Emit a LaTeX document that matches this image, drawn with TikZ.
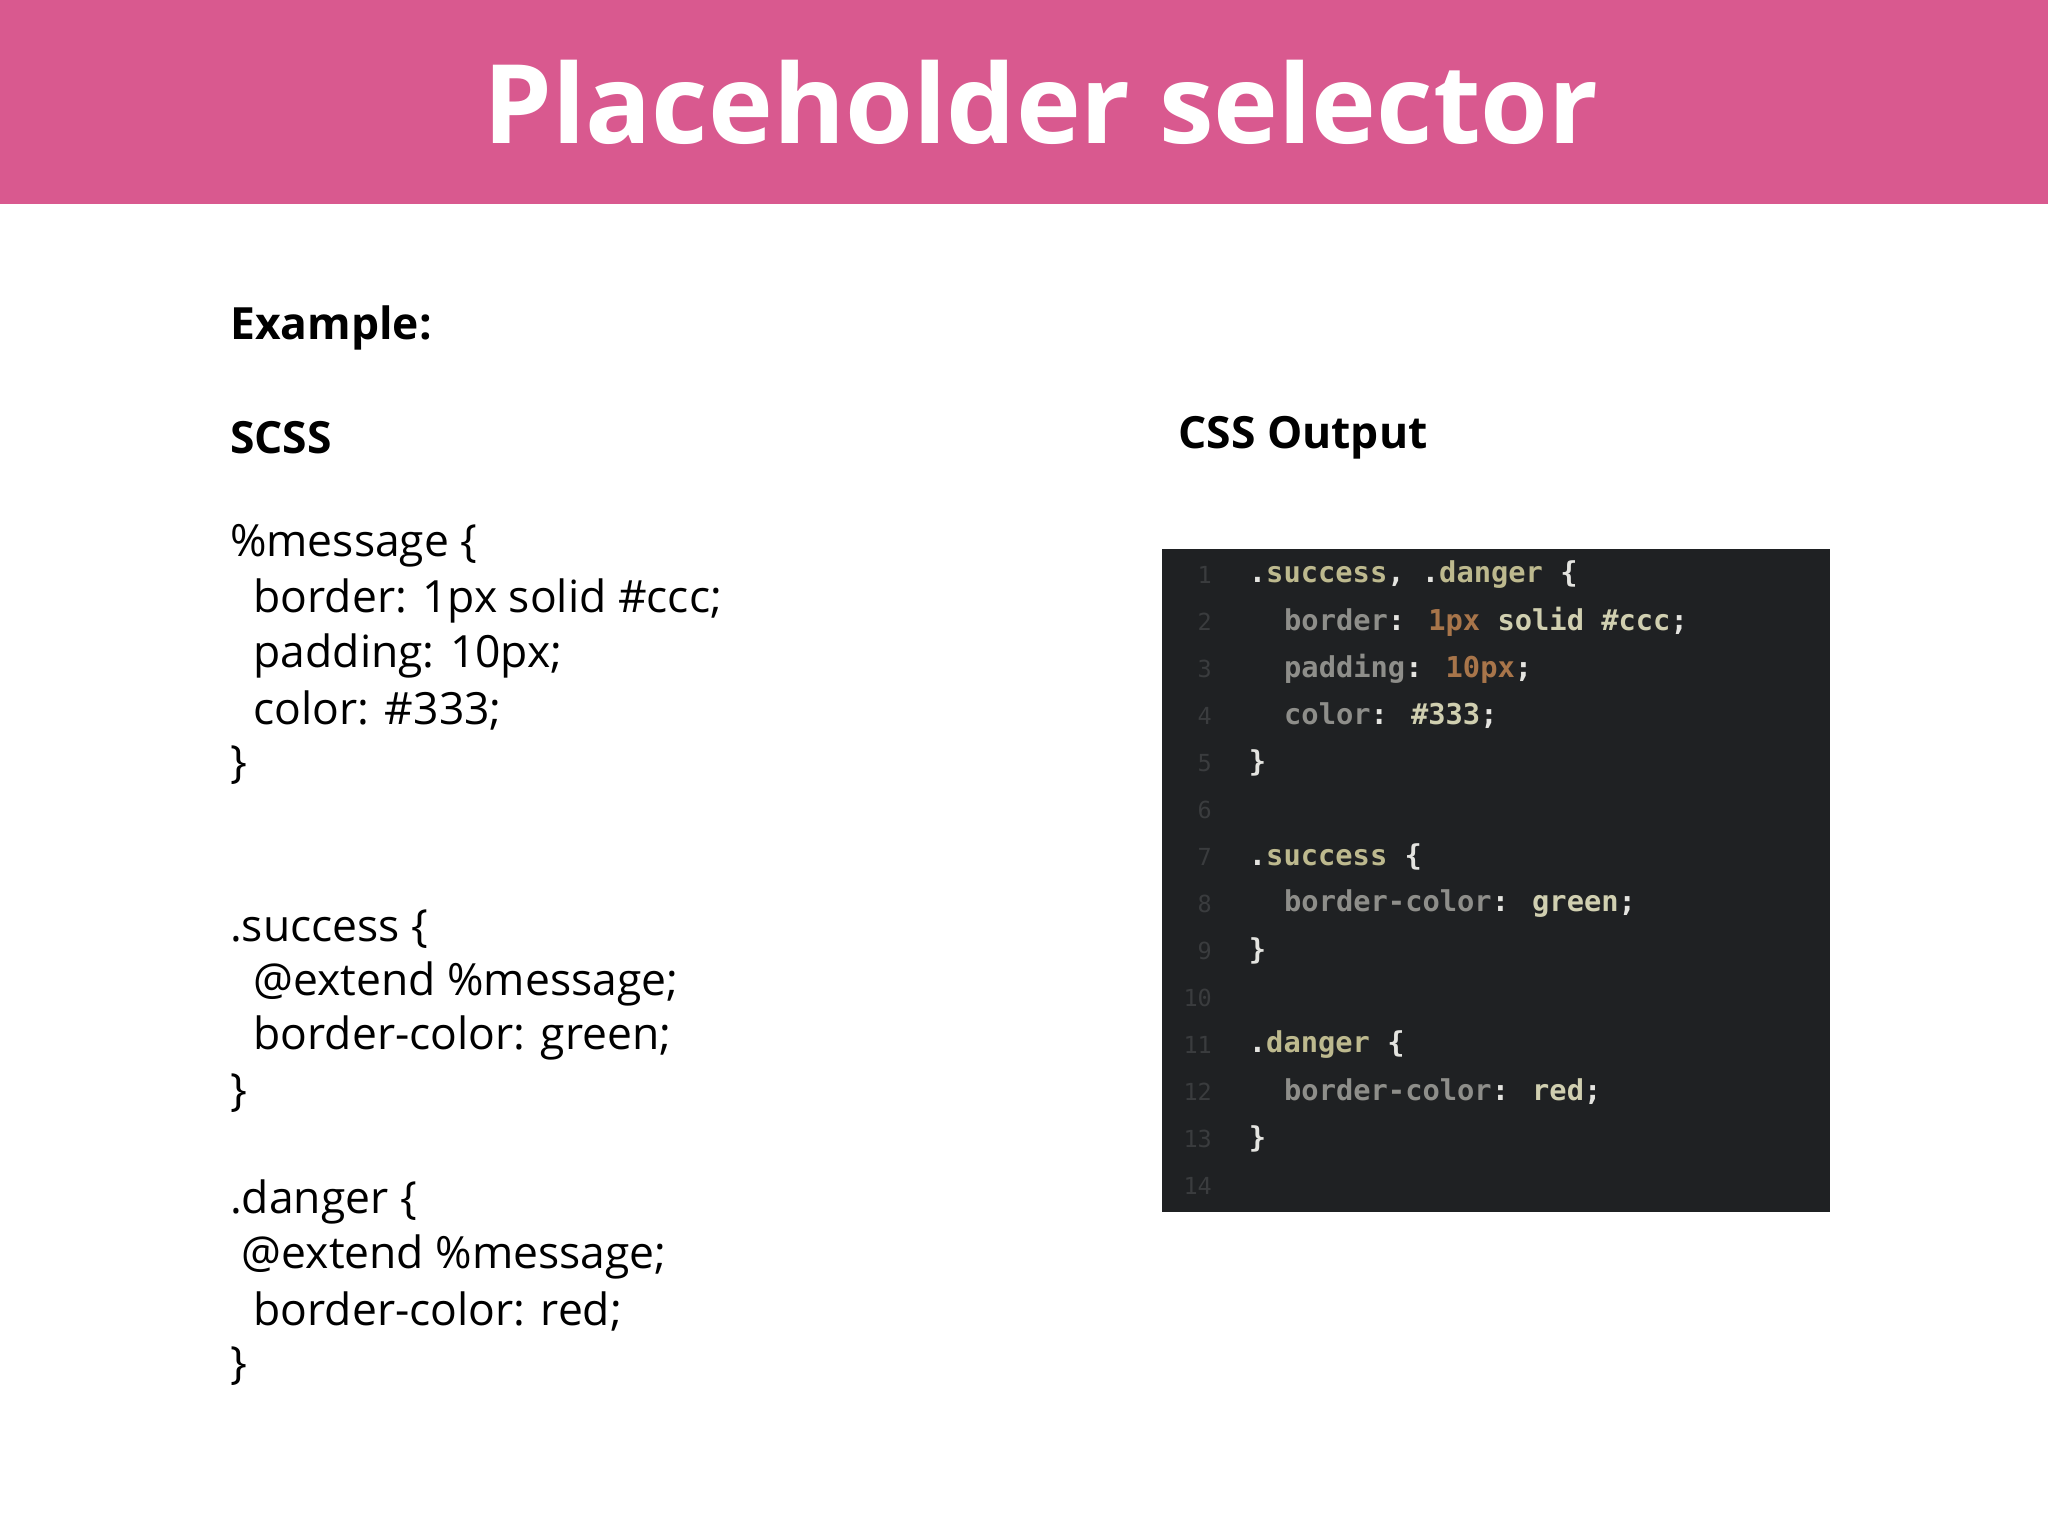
\documentclass[tikz,border=0pt]{standalone}
\usepackage{fontspec}
\setmainfont{Open Sans}
\newfontfamily\codefont{DejaVu Sans Mono}
\definecolor{pinkbar}{HTML}{D9598F}
\definecolor{panel}{HTML}{1F2123}
\definecolor{sel}{HTML}{BDB98E}
\definecolor{prop}{HTML}{8E8E8A}
\definecolor{num}{HTML}{A8754A}
\definecolor{val}{HTML}{D0CFB0}
\definecolor{pun}{HTML}{E4E4E0}
\definecolor{lnum}{HTML}{3A3C3E}
\tikzset{
  body/.style={anchor=west,inner sep=0pt,font=\fontsize{34}{40}\selectfont,text=black},
  head/.style={body,font=\fontsize{34}{40}\selectfont\bfseries},
  code/.style={anchor=west,inner sep=0pt,font=\codefont\bfseries\fontsize{22}{26}\selectfont},
  ln/.style={anchor=east,inner sep=0pt,text=lnum,font=\codefont\fontsize{18}{22}\selectfont},
}
\begin{document}
\begin{tikzpicture}[x=1pt,y=-1pt]
\useasboundingbox (0,0) rectangle (1568,1176);
\fill[white] (0,0) rectangle (1568,1176);
\fill[pinkbar] (0,0) rectangle (1568,156);
\node[text=white,font=\fontsize{84}{90}\selectfont\bfseries,inner sep=0pt] (title) at (797,78) {Placeholder selector};
\node[head] (ex) at (176,251) {Example:};
\node[head] (scss) at (176,335) {SCSS};
\node[head] (cssout) at (902,335) {CSS Output};
\node[body] (s1) at (176,418) {\%message \{};
\node[body] (s2) at (194,460) {border: 1px solid \#ccc;};
\node[body] (s3) at (194,502) {padding: 10px;};
\node[body] (s4) at (194,544) {color: \#333;};
\node[body] (s5) at (176,586) {\}};
\node[body] (s6) at (176,711) {.success \{};
\node[body] (s7) at (194,753) {@extend \%message;};
\node[body] (s8) at (194,795) {border-color: green;};
\node[body] (s9) at (176,837) {\}};
\node[body] (s10) at (176,920) {.danger \{};
\node[body] (s11) at (185,962) {@extend \%message;};
\node[body] (s12) at (194,1004) {border-color: red;};
\node[body] (s13) at (176,1046) {\}};
\fill[panel] (890,420) rectangle (1401,928);
\foreach \i in {1,...,14} {
  \node[ln] (l\i) at (928,{440+36*(\i-1)}) {\i};
}
\node[code] (c1) at (956,440) {\textcolor{pun}{.}\textcolor{sel}{success}\textcolor{pun}{, .}\textcolor{sel}{danger} \textcolor{pun}{\{}};
\node[code] (c2) at (983,476) {\textcolor{prop}{border}\textcolor{pun}{:} \textcolor{num}{1px} \textcolor{val}{solid \#ccc}\textcolor{pun}{;}};
\node[code] (c3) at (983,512) {\textcolor{prop}{padding}\textcolor{pun}{:} \textcolor{num}{10px}\textcolor{pun}{;}};
\node[code] (c4) at (983,548) {\textcolor{prop}{color}\textcolor{pun}{:} \textcolor{val}{\#333}\textcolor{pun}{;}};
\node[code] (c5) at (956,584) {\textcolor{pun}{\}}};
\node[code] (c7) at (956,656) {\textcolor{pun}{.}\textcolor{sel}{success} \textcolor{pun}{\{}};
\node[code] (c8) at (983,692) {\textcolor{prop}{border-color}\textcolor{pun}{:} \textcolor{val}{green}\textcolor{pun}{;}};
\node[code] (c9) at (956,728) {\textcolor{pun}{\}}};
\node[code] (c11) at (956,800) {\textcolor{pun}{.}\textcolor{sel}{danger} \textcolor{pun}{\{}};
\node[code] (c12) at (983,836) {\textcolor{prop}{border-color}\textcolor{pun}{:} \textcolor{val}{red}\textcolor{pun}{;}};
\node[code] (c13) at (956,872) {\textcolor{pun}{\}}};
\end{tikzpicture}
\end{document}
